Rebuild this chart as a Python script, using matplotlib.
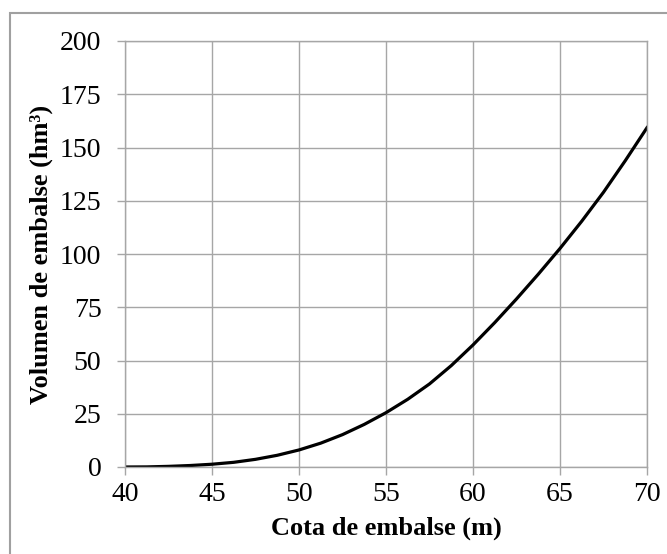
import matplotlib
matplotlib.use("Agg")
import matplotlib.pyplot as plt
from matplotlib.patches import Rectangle

# Curva cota-volumen
cota = [40, 41.25, 42.5, 43.75, 45, 46.25, 47.5, 48.75, 50, 51.25, 52.5, 53.75, 55,
        56.25, 57.5, 58.75, 60, 61.25, 62.5, 63.75, 65, 66.25, 67.5, 68.75, 70]
volumen = [0, 0.05, 0.3, 0.7, 1.3, 2.2, 3.6, 5.5, 8.0, 11.2, 15.2, 20.0, 25.5,
           31.8, 39.0, 47.6, 57.3, 67.8, 78.9, 90.5, 102.6, 115.4, 129.0, 143.8, 159.3]

x_ticks = [40, 45, 50, 55, 60, 65, 70]
y_ticks = [0, 25, 50, 75, 100, 125, 150, 175, 200]

plt.rcParams['font.family'] = ['Liberation Serif', 'DejaVu Serif']

fig = plt.figure(figsize=(6.67, 5.54), dpi=100)
ax = fig.add_axes([125 / 667, 1 - 467 / 554, (647 - 125) / 667, (467 - 41) / 554])

ax.plot(cota, volumen, color='black', linewidth=2.3, solid_joinstyle='round')

ax.set_xlim(40, 70)
ax.set_ylim(0, 200)
ax.set_xticks(x_ticks)
ax.set_yticks(y_ticks)
ax.grid(True, color='#a6a6a6', linewidth=1.0)
ax.set_axisbelow(True)
for s in ax.spines.values():
    s.set_color('#a6a6a6')
    s.set_linewidth(1.0)
ax.tick_params(axis='both', direction='out', length=6, width=1.0, color='#a6a6a6',
               labelsize=20)
ax.tick_params(axis='y', pad=11)
ax.tick_params(axis='x', pad=5)

ax.set_xlabel('Cota de embalse (m)', fontsize=19, fontweight='bold', labelpad=7)
ax.set_ylabel('Volumen de embalse (hm³)', fontsize=19, fontweight='bold', labelpad=5)

# marco exterior del grafico
fig.patches.append(Rectangle((9.5 / 667, -0.1), 1.2, 1.1 - 12.5 / 554,
                             transform=fig.transFigure, fill=False,
                             edgecolor='#a0a0a0', linewidth=1.5))

fig.savefig('out.png', dpi=100)
